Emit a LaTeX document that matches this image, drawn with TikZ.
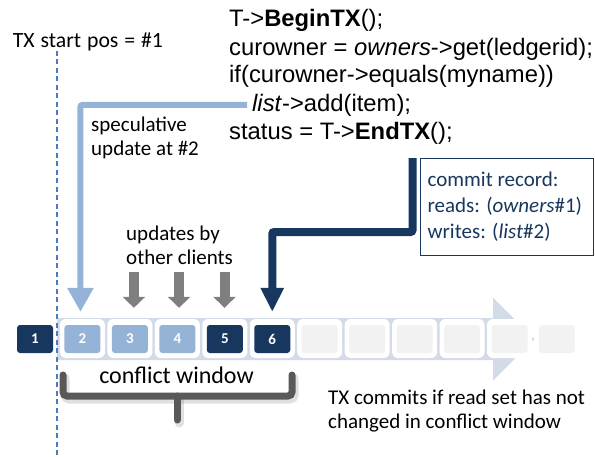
\documentclass[tikz,border=0pt]{standalone}
\usepackage{fontspec}
\setmainfont{Carlito}
\newfontfamily\codefont{Liberation Sans}
\usetikzlibrary{arrows.meta}

\definecolor{navy}{HTML}{17375E}
\definecolor{paleblue}{HTML}{95B3D7}
\definecolor{bandblue}{HTML}{D3DAE8}
\definecolor{startblue}{HTML}{4A7EBB}
\definecolor{emptygray}{HTML}{F2F2F2}
\definecolor{bracegray}{HTML}{595959}
\definecolor{othergray}{HTML}{7F7F7F}

\tikzset{
  code/.style={font=\codefont\fontsize{23.8}{28}\selectfont, inner sep=0pt, anchor=base west},
  note/.style={font=\fontsize{21}{24}\selectfont, inner sep=0pt, align=left},
  slot/.style={rounded corners=3pt, minimum width=36pt, minimum height=28pt, inner sep=0pt, text=white, font=\bfseries\fontsize{15}{15}\selectfont},
  specarrow/.style={draw=paleblue, line width=6pt, rounded corners=2pt, -{Triangle[width=25pt,length=24pt]}},
  commitarrow/.style={draw=navy, line width=8pt, rounded corners=2pt, -{Triangle[width=22pt,length=24pt]}},
  otherarrow/.style={draw=othergray, line width=10pt, -{Triangle[width=22pt,length=11pt]}},
  brace/.style={draw=bracegray, line width=7pt, rounded corners=4pt, line cap=round},
  startline/.style={draw=startblue, line width=1.8pt, dash pattern=on 5pt off 3.5pt},
}

\begin{document}
\begin{tikzpicture}[x=1pt,y=-1pt]
\useasboundingbox (0,0) rectangle (595,456);

% time line
\fill[bandblue] (57,318) -- (493,318) -- (493,297.5) -- (534.5,339) -- (493,380.5) -- (493,360) -- (57,360) -- cycle;
\foreach \i in {2,...,11}
  \fill[white, rounded corners=6pt] ({35+(\i-1)*47.45-22.5},319) rectangle ++(45,39);
\foreach \i/\c/\t in {1/navy/1,2/paleblue/2,3/paleblue/3,4/paleblue/4,5/navy/5,6/navy/6,
                      7/emptygray/{},8/emptygray/{},9/emptygray/{},10/emptygray/{},11/emptygray/{},12/emptygray/{}}
  \node[slot, fill=\c] (s\i) at ({35+(\i-1)*47.45},339) {\t};

% transaction code
\node[code] (code1) at (229,26.7) {T->\textbf{BeginTX}();};
\node[code] (code2) at (229,55) {curowner = \textit{owners}->get(ledgerid);};
\node[code] (code3) at (229,82.7) {if(curowner->equals(myname))};
\node[code] (code4) at (252,111) {\textit{list}->add(item);};
\node[code] (code5) at (229,139.3) {status = T->\textbf{EndTX}();};

\node[note, font=\fontsize{21.75}{24}\selectfont, anchor=base west] (start) at (12.7,47) {\spaceskip=0.27em TX start pos = \#1};
\coordinate (startbot) at (57,456);
\draw[startline] (startbot |- start.south) -- (startbot);

\node[note, anchor=north west] (spec) at (91,116.5) {speculative\\update at \#2};
\node[note, anchor=north west] (upd) at (126,226) {updates by\\other clients};
\node[draw=navy, line width=1.2pt, text=navy, font=\fontsize{21}{26}\selectfont, align=left,
      anchor=north west, text width=159pt, inner xsep=7pt, minimum height=97pt] (commit) at (420,158)
  {\spaceskip=0pt \xspaceskip=0pt commit record:\\reads: (\textit{owners}\#1)\\writes: (\textit{list}\#2)};

% arrows
\draw[specarrow, shorten >=13pt] ([xshift=-5pt]code4.west) -| ([xshift=-2pt]s2.north);
\coordinate (turn) at (412.5,232);
\draw[commitarrow, shorten >=13pt] (turn |- commit.north) -- (turn) -| (s6.north);
\foreach \i/\dx in {3/4,4/1.7,5/-0.3}
  \draw[otherarrow, shorten >=17pt] ([xshift=\dx pt, yshift=53pt]s\i.north) -- ([xshift=\dx pt]s\i.north);

% conflict window
\begin{scope}[shift={(2,3)}]
\draw[brace, draw=black, opacity=0.12, line width=9pt] (63,375) -- (63,396) -- (292,396) -- (292,375);
\draw[brace, draw=black, opacity=0.12, line width=9pt] (177,396) -- (177,420);
\end{scope}
\draw[brace] (63,375) -- (63,396) -- (292,396) -- (292,375);
\draw[brace] (177,396) -- (177,420);
\node[font=\fontsize{24}{24}\selectfont, inner sep=0pt, anchor=base] (window) at (176.5,383) {conflict window};

\node[note, anchor=north west] (rule) at (328,389.5) {TX commits if read set has not\\changed in conflict window};
\end{tikzpicture}
\end{document}
